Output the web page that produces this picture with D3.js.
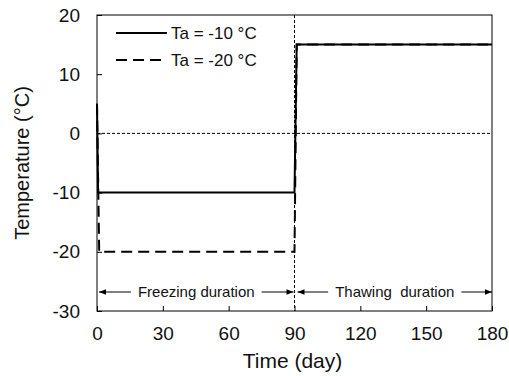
<!DOCTYPE html>
<html>
<head>
<meta charset="utf-8">
<script src="https://cdn.jsdelivr.net/npm/d3@7"></script>
<style>
  html, body { margin: 0; padding: 0; background: #fff; }
  svg { display: block; font-family: "Liberation Sans", Arial, sans-serif; }
</style>
</head>
<body>
<svg id="chart" width="509" height="376"></svg>
<script>
// ---- data ----
const seriesNames = ["Ta = -10 °C", "Ta = -20 °C"];
const seriesStyles = ["solid", "dashed"];
const daysTa10 = [0, 0.5, 90, 91, 180];
const tempTa10 = [5, -10, -10, 15, 15];
const daysTa20 = [0, 1, 90, 91, 180];
const tempTa20 = [5, -20, -20, 15, 15];
const xTicks = [0, 30, 60, 90, 120, 150, 180];
const yTicks = [-30, -20, -10, 0, 10, 20];
const phaseLabels = ["Freezing duration", "Thawing  duration"];
const phaseBounds = [[0, 90], [90, 180]];

// ---- layout ----
const W = 509, H = 376;
const m = { left: 97, right: 17, top: 15, bottom: 65 };
const svg = d3.select("#chart");
const x = d3.scaleLinear().domain([0, 180]).range([m.left, W - m.right]);
const y = d3.scaleLinear().domain([-30, 20]).range([H - m.bottom, m.top]);

// reference lines (dotted)
svg.append("line")
  .attr("x1", x(0)).attr("x2", x(180)).attr("y1", y(0)).attr("y2", y(0))
  .attr("stroke", "#000").attr("stroke-width", 1).attr("stroke-dasharray", "3,2");
svg.append("line")
  .attr("x1", x(90)).attr("x2", x(90)).attr("y1", y(20)).attr("y2", y(-30))
  .attr("stroke", "#000").attr("stroke-width", 1).attr("stroke-dasharray", "3,2");

// axes
const fontTick = 19;
const fmt = d => String(d);
const xAxis = d3.axisBottom(x).tickValues(xTicks).tickFormat(fmt).tickSizeInner(-5).tickSizeOuter(0).tickPadding(16);
const gx = svg.append("g").attr("transform", `translate(0,${y(-30)})`).call(xAxis);
const yAxis = d3.axisLeft(y).tickValues(yTicks).tickFormat(fmt).tickSizeInner(-5).tickSizeOuter(0).tickPadding(17);
const gy = svg.append("g").attr("transform", `translate(${x(0)},0)`).call(yAxis);
[gx, gy].forEach(g => {
  g.select(".domain").remove();
  g.selectAll(".tick line").attr("stroke", "#000");
  g.selectAll(".tick text").attr("font-size", fontTick).attr("fill", "#111")
    .attr("font-family", "'Liberation Sans', Arial, sans-serif");
});

// frame
svg.append("rect")
  .attr("x", x(0)).attr("y", y(20))
  .attr("width", x(180) - x(0)).attr("height", y(-30) - y(20))
  .attr("fill", "none").attr("stroke", "#000").attr("stroke-width", 1);

// series
const line = d3.line().x(d => x(d[0])).y(d => y(d[1]));
const s10 = daysTa10.map((d, i) => [d, tempTa10[i]]);
const s20 = daysTa20.map((d, i) => [d, tempTa20[i]]);
svg.append("path").datum(s20).attr("d", line)
  .attr("fill", "none").attr("stroke", "#000").attr("stroke-width", 2)
  .attr("stroke-dasharray", "11,6");
svg.append("path").datum(s10).attr("d", line)
  .attr("fill", "none").attr("stroke", "#000").attr("stroke-width", 2);

// legend
const legY = [33, 60];
seriesNames.forEach((name, i) => {
  svg.append("line")
    .attr("x1", 116).attr("x2", 167).attr("y1", legY[i]).attr("y2", legY[i])
    .attr("stroke", "#000").attr("stroke-width", 2)
    .attr("stroke-dasharray", seriesStyles[i] === "dashed" ? "11,6" : null);
  svg.append("text")
    .attr("x", 171).attr("y", legY[i] + 6)
    .attr("font-size", 17).attr("fill", "#111")
    .text(name);
});

// phase annotations with arrows
const defs = svg.append("defs");
defs.append("marker").attr("id", "ah").attr("viewBox", "0 0 10 10")
  .attr("refX", 10).attr("refY", 5).attr("markerWidth", 9).attr("markerHeight", 7)
  .attr("markerUnits", "userSpaceOnUse").attr("orient", "auto-start-reverse")
  .append("path").attr("d", "M0,1 L10,5 L0,9 Z").attr("fill", "#000");

const arrowY = 292;
const textPad = 7;
phaseLabels.forEach((lab, i) => {
  const x0 = x(phaseBounds[i][0]) + (i === 0 ? 2 : 3);
  const x1 = x(phaseBounds[i][1]) - (i === 0 ? 1 : 0);
  const cx = (x0 + x1) / 2;
  const t = svg.append("text")
    .attr("x", cx).attr("y", arrowY + 5)
    .attr("text-anchor", "middle").attr("font-size", 15).attr("fill", "#111")
    .attr("xml:space", "preserve").style("white-space", "pre")
    .text(lab);
  const bb = t.node().getBBox();
  svg.append("line")
    .attr("x1", bb.x - textPad).attr("x2", x0).attr("y1", arrowY).attr("y2", arrowY)
    .attr("stroke", "#000").attr("stroke-width", 1).attr("marker-end", "url(#ah)");
  svg.append("line")
    .attr("x1", bb.x + bb.width + textPad).attr("x2", x1).attr("y1", arrowY).attr("y2", arrowY)
    .attr("stroke", "#000").attr("stroke-width", 1).attr("marker-end", "url(#ah)");
});

// axis titles
svg.append("text")
  .attr("x", (x(0) + x(180)) / 2 - 2).attr("y", 368)
  .attr("text-anchor", "middle").attr("font-size", 21).attr("fill", "#111")
  .text("Time (day)");
svg.append("text")
  .attr("transform", `translate(29,${(y(20) + y(-30)) / 2}) rotate(-90)`)
  .attr("text-anchor", "middle").attr("font-size", 20).attr("fill", "#111")
  .text("Temperature (°C)");
</script>
</body>
</html>
